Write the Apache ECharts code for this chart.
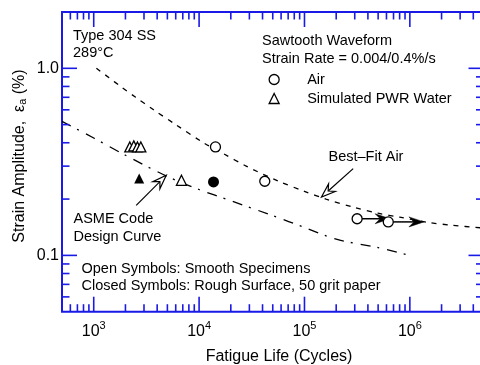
<!DOCTYPE html>
<html><head><meta charset="utf-8">
<script src="https://cdn.jsdelivr.net/npm/echarts@6/dist/echarts.min.js"></script>
<style>html,body{margin:0;padding:0;background:#fff}#c{width:480px;height:365px}</style>
</head><body><div id="c"></div>
<script>
// ---- data ----
const airSmooth = [[14300, 0.38], [42000, 0.249], [316000, 0.157], [624000, 0.151]];
const waterSmooth = [[2200, 0.38], [2400, 0.385], [2600, 0.38], [2800, 0.38], [6800, 0.252]];
const airRough = [[13700, 0.247]];
const waterRough = [[2700, 0.258]];
const runoutArrows = [[316000, 0.157, 650000, 0.157], [624000, 0.151, 1360000, 0.151]];
const bestFitAir = [[1060, 1.0], [1400, 0.89], [1800, 0.8], [2500, 0.70], [3700, 0.6], [6000, 0.5], [11000, 0.4],
  [17000, 0.35], [28000, 0.3], [56000, 0.25], [100000, 0.22], [160000, 0.2], [300000, 0.18], [500000, 0.168],
  [800000, 0.16], [1500000, 0.15], [2500000, 0.145], [5000000, 0.14]];
const asmeCurve = [[500, 0.52], [1000, 0.424], [2000, 0.343], [5000, 0.264], [10000, 0.225], [20000, 0.196],
  [50000, 0.163], [100000, 0.141], [200000, 0.122], [500000, 0.11], [1000000, 0.1]];
const annotationArrows = [[290000, 0.291, 145000, 0.205], [2530, 0.185, 4880, 0.268]];
const xMajorTicks = [1e3, 1e4, 1e5, 1e6];
const xMinorTicks = [600, 700, 800, 900, 2000, 3000, 4000, 5000, 6000, 7000, 8000, 9000,
  20000, 30000, 40000, 50000, 60000, 70000, 80000, 90000,
  200000, 300000, 400000, 500000, 600000, 700000, 800000, 900000, 2000000, 3000000, 4000000];
const yMajorTicks = [0.1, 1];
const yMinorTicks = [0.06, 0.07, 0.08, 0.09, 0.2, 0.3, 0.4, 0.5, 0.6, 0.7, 0.8, 0.9];
const X_MIN = 500, X_MAX = 5000000, Y_MIN = 0.05, Y_MAX = 2;

const FONT = '"Liberation Sans", Arial, Helvetica, sans-serif';
const BLUE = '#1a1ae6';

const chart = echarts.init(document.getElementById('c'), null, {renderer: 'canvas'});

function isPow10(v) { const l = Math.log10(v); return Math.abs(l - Math.round(l)) < 1e-6; }

const xTickData = xMajorTicks.map(v => [v, Y_MIN, 1]).concat(xMinorTicks.map(v => [v, Y_MIN, 0]));
const yTickData = yMajorTicks.map(v => [X_MIN, v, 1]).concat(yMinorTicks.map(v => [X_MIN, v, 0]));

function arrowHead(tip, u, L, W, D) {
  const n = [-u[1], u[0]];
  const back = [tip[0] - u[0] * L, tip[1] - u[1] * L];
  const notch = [tip[0] - u[0] * (L - D), tip[1] - u[1] * (L - D)];
  return {points: [tip, [back[0] + n[0] * W, back[1] + n[1] * W], notch, [back[0] - n[0] * W, back[1] - n[1] * W]], notch};
}
function makeArrowRender(filled) {
  return function (params, api) {
    const a = api.coord([api.value(0), api.value(1)]);
    const b = api.coord([api.value(2), api.value(3)]);
    const dx = b[0] - a[0], dy = b[1] - a[1], len = Math.hypot(dx, dy);
    const u = [dx / len, dy / len];
    const h = filled ? arrowHead(b, u, 15, 5, 5) : arrowHead(b, u, 14, 5, 5);
    return {type: 'group', children: [
      {type: 'line', shape: {x1: a[0], y1: a[1], x2: h.notch[0], y2: h.notch[1]}, style: {stroke: '#000', lineWidth: filled ? 1.5 : 1.2}},
      {type: 'polygon', shape: {points: h.points}, style: {fill: filled ? '#000' : '#fff', stroke: '#000', lineWidth: filled ? 0.5 : 1.2}}
    ]};
  };
}

const option = {
  animation: false,
  grid: {left: 62, top: 12, right: -3.5, bottom: 53.3, show: true, borderColor: BLUE, borderWidth: 2, backgroundColor: 'transparent', containLabel: false, outerBoundsMode: 'none'},
  legend: {
    orient: 'vertical', left: 268.5, top: 72, padding: 0, itemGap: 4, itemWidth: 10, itemHeight: 10,
    data: ['Air', 'Simulated PWR Water'], selectedMode: false,
    itemStyle: {color: '#fff', borderColor: '#000', borderWidth: 1.3},
    textStyle: {fontSize: 14.5, color: '#000', fontFamily: FONT, padding: [0, 0, 0, 23]}
  },
  xAxis: {
    type: 'log', logBase: 10, min: X_MIN, max: X_MAX,
    axisLine: {show: false}, axisTick: {show: false}, splitLine: {show: false}, minorTick: {show: false},
    axisLabel: {
      margin: 9, color: '#000', fontFamily: FONT,
      formatter: v => isPow10(v) ? '{b|10}{s|' + Math.round(Math.log10(v)) + '}' : '',
      rich: {b: {fontSize: 16, fontFamily: FONT, color: '#000', verticalAlign: 'bottom'},
             s: {fontSize: 11, fontFamily: FONT, color: '#000', verticalAlign: 'bottom', padding: [0, 0, 8, 0]}}
    }
  },
  yAxis: {
    type: 'log', logBase: 10, min: Y_MIN, max: Y_MAX,
    axisLine: {show: false}, axisTick: {show: false}, splitLine: {show: false}, minorTick: {show: false},
    axisLabel: {
      margin: 3, color: '#000', fontSize: 16, fontFamily: FONT,
      formatter: v => isPow10(v) ? Math.pow(10, Math.round(Math.log10(v))).toFixed(1) : ''
    }
  },
  graphic: [
    {type: 'text', x: 73, y: 36, style: {text: 'Type 304 SS', font: '14.5px ' + FONT, fill: '#000', verticalAlign: 'middle'}},
    {type: 'text', x: 73, y: 53, style: {text: '289°C', font: '14.5px ' + FONT, fill: '#000', verticalAlign: 'middle'}},
    {type: 'text', x: 262, y: 40.5, style: {text: 'Sawtooth Waveform', font: '14.5px ' + FONT, fill: '#000', verticalAlign: 'middle'}},
    {type: 'text', x: 262, y: 58.5, style: {text: 'Strain Rate = 0.004/0.4%/s', font: '14.5px ' + FONT, fill: '#000', verticalAlign: 'middle'}},
    {type: 'text', x: 328.5, y: 157, style: {text: 'Best\u2013Fit Air', font: '14.5px ' + FONT, fill: '#000', verticalAlign: 'middle'}},
    {type: 'text', x: 73.5, y: 219, style: {text: 'ASME Code', font: '14.5px ' + FONT, fill: '#000', verticalAlign: 'middle'}},
    {type: 'text', x: 73.5, y: 237, style: {text: 'Design Curve', font: '14.5px ' + FONT, fill: '#000', verticalAlign: 'middle'}},
    {type: 'text', x: 81.5, y: 268.5, style: {text: 'Open Symbols: Smooth Specimens', font: '14.5px ' + FONT, fill: '#000', verticalAlign: 'middle'}},
    {type: 'text', x: 81.5, y: 285.5, style: {text: 'Closed Symbols: Rough Surface, 50 grit paper', font: '14.5px ' + FONT, fill: '#000', verticalAlign: 'middle'}},
    {type: 'text', x: 279, y: 357, style: {text: 'Fatigue Life (Cycles)', font: '16px ' + FONT, fill: '#000', align: 'center', verticalAlign: 'middle'}},
    {type: 'text', x: 20, y: 156, rotation: Math.PI / 2, style: {
      text: 'Strain Amplitude,  {e|\u03b5}{a|a} (%)', font: '16px ' + FONT, fill: '#000', align: 'center', verticalAlign: 'middle',
      rich: {e: {fontSize: 16, fontFamily: FONT, fill: '#000', verticalAlign: 'top'},
             a: {fontSize: 11, fontFamily: FONT, fill: '#000', verticalAlign: 'top', padding: [6, 0, 0, 0]}}
    }}
  ],
  series: [
    {type: 'custom', name: 'xticks', coordinateSystem: 'cartesian2d', silent: true, z: 5, clip: false,
     encode: {x: 0, y: 1}, data: xTickData,
     renderItem: (params, api) => {
       const v = api.value(0), major = api.value(2) === 1, len = major ? 15 : 7.5;
       const p0 = api.coord([v, Y_MIN]), p1 = api.coord([v, Y_MAX]);
       const st = {stroke: BLUE, lineWidth: 1.6};
       return {type: 'group', children: [
         {type: 'line', shape: {x1: p0[0], y1: p0[1], x2: p0[0], y2: p0[1] - len}, style: st},
         {type: 'line', shape: {x1: p1[0], y1: p1[1], x2: p1[0], y2: p1[1] + len}, style: st}
       ]};
     }},
    {type: 'custom', name: 'yticks', coordinateSystem: 'cartesian2d', silent: true, z: 5, clip: false,
     encode: {x: 0, y: 1}, data: yTickData,
     renderItem: (params, api) => {
       const v = api.value(1), major = api.value(2) === 1, len = major ? 15 : 7.5;
       const p0 = api.coord([X_MIN, v]), p1 = api.coord([X_MAX, v]);
       const st = {stroke: BLUE, lineWidth: 1.6};
       return {type: 'group', children: [
         {type: 'line', shape: {x1: p0[0], y1: p0[1], x2: p0[0] + len, y2: p0[1]}, style: st},
         {type: 'line', shape: {x1: p1[0], y1: p1[1], x2: p1[0] - len, y2: p1[1]}, style: st}
       ]};
     }},
    {type: 'line', name: 'Best-Fit Air', data: bestFitAir, symbol: 'none', smooth: 0.3, silent: true, z: 2,
     lineStyle: {color: '#000', width: 1.3, type: [5, 6]}},
    {type: 'line', name: 'ASME Code Design Curve', data: asmeCurve, symbol: 'none', smooth: 0.3, silent: true, z: 2,
     lineStyle: {color: '#000', width: 1.3, type: [10, 7, 2, 8]}},
    {type: 'custom', name: 'runouts', coordinateSystem: 'cartesian2d', silent: true, z: 3,
     encode: {x: [0, 2], y: [1, 3]}, data: runoutArrows, renderItem: makeArrowRender(true)},
    {type: 'custom', name: 'labels', coordinateSystem: 'cartesian2d', silent: true, z: 3, clip: false,
     encode: {x: [0, 2], y: [1, 3]}, data: annotationArrows, renderItem: makeArrowRender(false)},
    {type: 'scatter', name: 'Air', data: airSmooth, symbol: 'circle', symbolSize: 10, z: 4,
     itemStyle: {color: '#fff', borderColor: '#000', borderWidth: 1.3, opacity: 1}},
    {type: 'scatter', name: 'Simulated PWR Water', data: waterSmooth, symbol: 'triangle', symbolSize: 10, z: 4,
     itemStyle: {color: '#fff', borderColor: '#000', borderWidth: 1.3, opacity: 1}},
    {type: 'scatter', name: 'Air rough', data: airRough, symbol: 'circle', symbolSize: 11, z: 4,
     itemStyle: {color: '#000', opacity: 1}},
    {type: 'scatter', name: 'PWR Water rough', data: waterRough, symbol: 'triangle', symbolSize: 10, z: 4,
     itemStyle: {color: '#000', opacity: 1}}
  ]
};
chart.setOption(option);
</script></body></html>
